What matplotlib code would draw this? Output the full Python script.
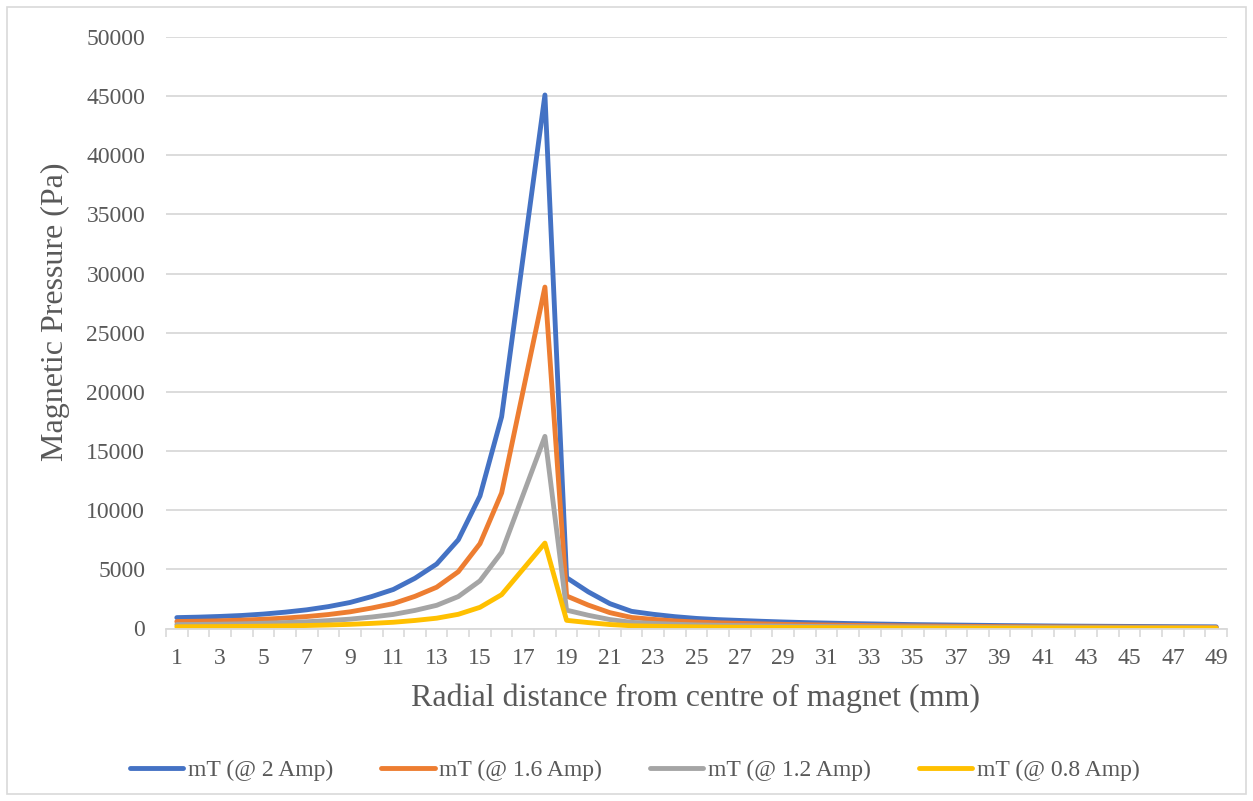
import matplotlib
matplotlib.use("Agg")
import matplotlib.pyplot as plt
from matplotlib.patches import Rectangle
from matplotlib.ticker import FixedLocator, MultipleLocator

# Radial distance categories (mm)
distance_mm = list(range(1, 50))

# Magnetic pressure (Pa) for each coil current
p_2_0 = [920, 960, 1020, 1100, 1220, 1380, 1580, 1850, 2200, 2700,
         3300, 4250, 5450, 7500, 11200, 17900, 31500, 45100, 4300, 3100,
         2100, 1450, 1200, 1000, 850, 750, 680, 610, 550, 500,
         460, 420, 390, 360, 330, 310, 290, 270, 250, 235,
         220, 205, 195, 185, 175, 165, 155, 148, 140]
p_1_6 = [590, 615, 650, 705, 780, 880, 1010, 1180, 1410, 1730,
         2110, 2720, 3490, 4800, 7170, 11460, 20160, 28860, 2750, 1980,
         1340, 930, 770, 640, 545, 480, 435, 390, 350, 320,
         295, 270, 250, 230, 210, 200, 185, 175, 160, 150,
         140, 130, 125, 118, 112, 105, 100, 95, 90]
p_1_2 = [330, 345, 365, 395, 440, 500, 570, 665, 790, 970,
         1190, 1530, 1960, 2700, 4030, 6440, 11340, 16240, 1550, 1120,
         755, 520, 430, 360, 305, 270, 245, 220, 200, 180,
         165, 150, 140, 130, 120, 112, 104, 97, 90, 85,
         79, 74, 70, 67, 63, 59, 56, 53, 50]
p_0_8 = [147, 154, 163, 176, 195, 220, 253, 296, 352, 432,
         528, 680, 872, 1200, 1790, 2860, 5040, 7220, 690, 500,
         336, 232, 192, 160, 136, 120, 109, 98, 88, 80,
         74, 67, 62, 58, 53, 50, 46, 43, 40, 38,
         35, 33, 31, 30, 28, 26, 25, 24, 22]

series = [
    ("mT (@ 2 Amp)", p_2_0, "#4472C4"),
    ("mT (@ 1.6 Amp)", p_1_6, "#ED7D31"),
    ("mT (@ 1.2 Amp)", p_1_2, "#A5A5A5"),
    ("mT (@ 0.8 Amp)", p_0_8, "#FFC000"),
]

plt.rcParams["font.family"] = ["Liberation Serif", "DejaVu Serif"]

W, H = 1253, 801
fig = plt.figure(figsize=(W / 100, H / 100), dpi=100)
fig.patch.set_facecolor("white")
fig.patches.append(Rectangle((7 / W, 7 / H), 1 - 14 / W, 1 - 14 / H,
                             transform=fig.transFigure, fill=False,
                             edgecolor="#d9d9d9", linewidth=1.2))

ax = fig.add_axes([166 / W, 1 - 628.5 / H, (1227 - 166) / W, (628.5 - 37) / H])

for label, vals, color in series:
    ax.plot(distance_mm, vals, color=color, linewidth=3.5, label=label,
            solid_joinstyle="round", solid_capstyle="round")

ax.set_xlim(0.5, 49.5)
ax.set_ylim(0, 50000)
ax.yaxis.set_major_locator(MultipleLocator(5000))
ax.grid(axis="y", color="#d9d9d9", linewidth=1.3)
ax.set_axisbelow(True)

# Category ticks: marks at boundaries, labels at odd categories
ax.xaxis.set_major_locator(FixedLocator([d for d in distance_mm if d % 2 == 1]))
ax.xaxis.set_minor_locator(FixedLocator([d + 0.5 for d in range(0, 50)]))
ax.tick_params(axis="x", which="major", length=0, pad=14, labelsize=17,
               labelcolor="#595959")
ax.tick_params(axis="x", which="minor", length=6, width=1.2, color="#d9d9d9")
ax.tick_params(axis="y", length=0, pad=15, labelsize=17, labelcolor="#595959")

for s in ["top", "right", "left"]:
    ax.spines[s].set_visible(False)
ax.spines["bottom"].set_color("#d9d9d9")
ax.spines["bottom"].set_linewidth(1.3)

ax.set_xlabel("Radial distance from centre of magnet (mm)", fontsize=23,
              color="#595959")
ax.xaxis.set_label_coords(0.499, -(698 - 628.5) / 591.5)
ax.xaxis.label.set_verticalalignment("center")
ax.set_ylabel("Magnetic Pressure (Pa)", fontsize=23, color="#595959")
ax.yaxis.set_label_coords(-(166 - 55) / 1061, (628.5 - 312) / 591.5)
ax.yaxis.label.set_verticalalignment("center")

leg = fig.legend(loc="center", bbox_to_anchor=(0.5068, 1 - 770 / H), ncol=4,
                 frameon=False, fontsize=17, handlelength=2.25,
                 handletextpad=0.2, columnspacing=2.04)
for t in leg.get_texts():
    t.set_color("#595959")

fig.savefig("out.png", dpi=100, facecolor="white")
